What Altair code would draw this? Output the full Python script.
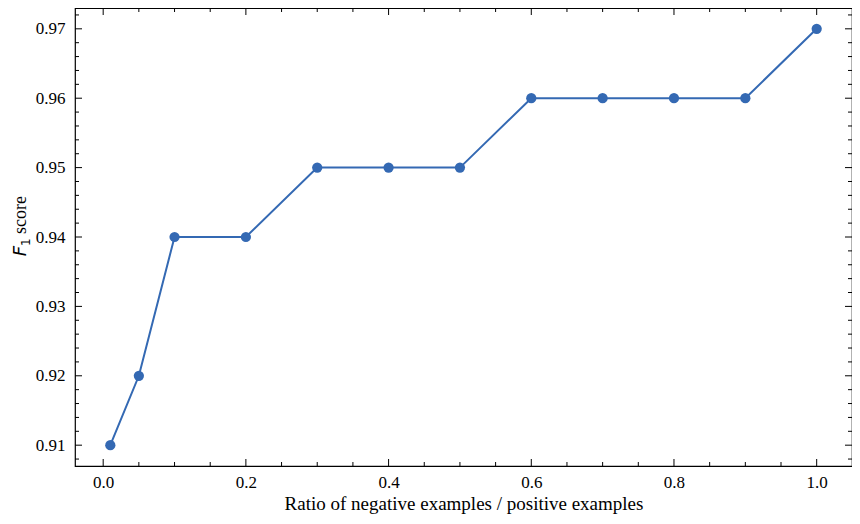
import altair as alt
import pandas as pd

ratio = [0.01, 0.05, 0.1, 0.2, 0.3, 0.4, 0.5, 0.6, 0.7, 0.8, 0.9, 1.0]
f1 = [0.91, 0.92, 0.94, 0.94, 0.95, 0.95, 0.95, 0.96, 0.96, 0.96, 0.96, 0.97]

x_major = [0.0, 0.2, 0.4, 0.6, 0.8, 1.0]
x_minor = [-0.05 + 0.05 * i for i in range(0, 23)]
x_minor = [round(v, 3) for v in x_minor if -0.0395 <= v <= 1.0495 and round(v / 0.2, 3) % 1 != 0]
y_major = [0.91, 0.92, 0.93, 0.94, 0.95, 0.96, 0.97]
y_minor = [round(0.908 + 0.002 * i, 3) for i in range(0, 33)]
y_minor = [v for v in y_minor if 0.907 <= v <= 0.973 and abs(round(v * 100) - v * 100) > 1e-6]

W, H = 777, 458
XDOM = [-0.0395, 1.0495]
YDOM = [0.907, 0.973]
COLOR = "#3469b3"
FONT = "Liberation Serif"

df = pd.DataFrame({"ratio": ratio, "f1": f1})
xs = alt.Scale(domain=XDOM, nice=False, zero=False)
ys = alt.Scale(domain=YDOM, nice=False, zero=False)

x_axis = alt.Axis(
    values=x_major, format=".1f", ticks=False, grid=False, domain=False,
    labelFont=FONT, labelFontSize=17, labelColor="black", labelPadding=8,
    title="Ratio of negative examples / positive examples",
    titleFont=FONT, titleFontSize=19, titleFontWeight="normal", titleColor="black",
    titlePadding=4)
y_axis = alt.Axis(
    values=y_major, format=".2f", ticks=False, grid=False, domain=False,
    labelFont=FONT, labelFontSize=17, labelColor="black", labelPadding=10,
    title=None)

base = alt.Chart(df).encode(
    x=alt.X("ratio:Q", scale=xs, axis=x_axis),
    y=alt.Y("f1:Q", scale=ys, axis=y_axis),
)
line = base.mark_line(color=COLOR, strokeWidth=2)
pts = base.mark_circle(color=COLOR, size=105, opacity=1)

def xticks(vals, length):
    d = pd.DataFrame({"v": vals})
    b = alt.Chart(d).mark_rule(color="black", strokeWidth=1)
    enc = dict(x=alt.X("v:Q", scale=xs, axis=x_axis))
    bot = b.encode(**enc, y=alt.value(H - length), y2=alt.value(H))
    top = b.encode(**enc, y=alt.value(0), y2=alt.value(length))
    return bot + top

def yticks(vals, length):
    d = pd.DataFrame({"v": vals})
    b = alt.Chart(d).mark_rule(color="black", strokeWidth=1)
    enc = dict(y=alt.Y("v:Q", scale=ys, axis=y_axis))
    left = b.encode(**enc, x=alt.value(0), x2=alt.value(length))
    right = b.encode(**enc, x=alt.value(W - length), x2=alt.value(W))
    return left + right

tick_layers = xticks(x_major, 7) + xticks(x_minor, 4) + yticks(y_major, 7) + yticks(y_minor, 4)

# Y axis title: italic F with subscript 1, then "score"
tdf = pd.DataFrame({"t": [0]})
tb = alt.Chart(tdf)
ty_x = -49
ty_y = 238
t_F = tb.mark_text(text="F", font="DejaVu Sans", fontStyle="italic", fontSize=18, angle=270,
                   align="right", baseline="alphabetic", color="black").encode(
    x=alt.value(ty_x), y=alt.value(ty_y))
t_1 = tb.mark_text(text="1", font="DejaVu Sans", fontSize=12, angle=270, dy=4,
                   align="left", baseline="alphabetic", color="black").encode(
    x=alt.value(ty_x), y=alt.value(ty_y))
t_s = tb.mark_text(text="score", font=FONT, fontSize=18, angle=270, dx=12,
                   align="left", baseline="alphabetic", color="black").encode(
    x=alt.value(ty_x), y=alt.value(ty_y))

chart = alt.layer(line, pts, tick_layers, t_F, t_1, t_s).properties(
    width=W, height=H,
    background="white",
    autosize=alt.AutoSizeParams(type="none"),
    padding={"left": 67, "top": 0, "right": 0, "bottom": 50},
).configure_view(stroke="black", strokeWidth=1.2)

chart.save("out.html", embed_options={"renderer": "svg", "actions": False})
